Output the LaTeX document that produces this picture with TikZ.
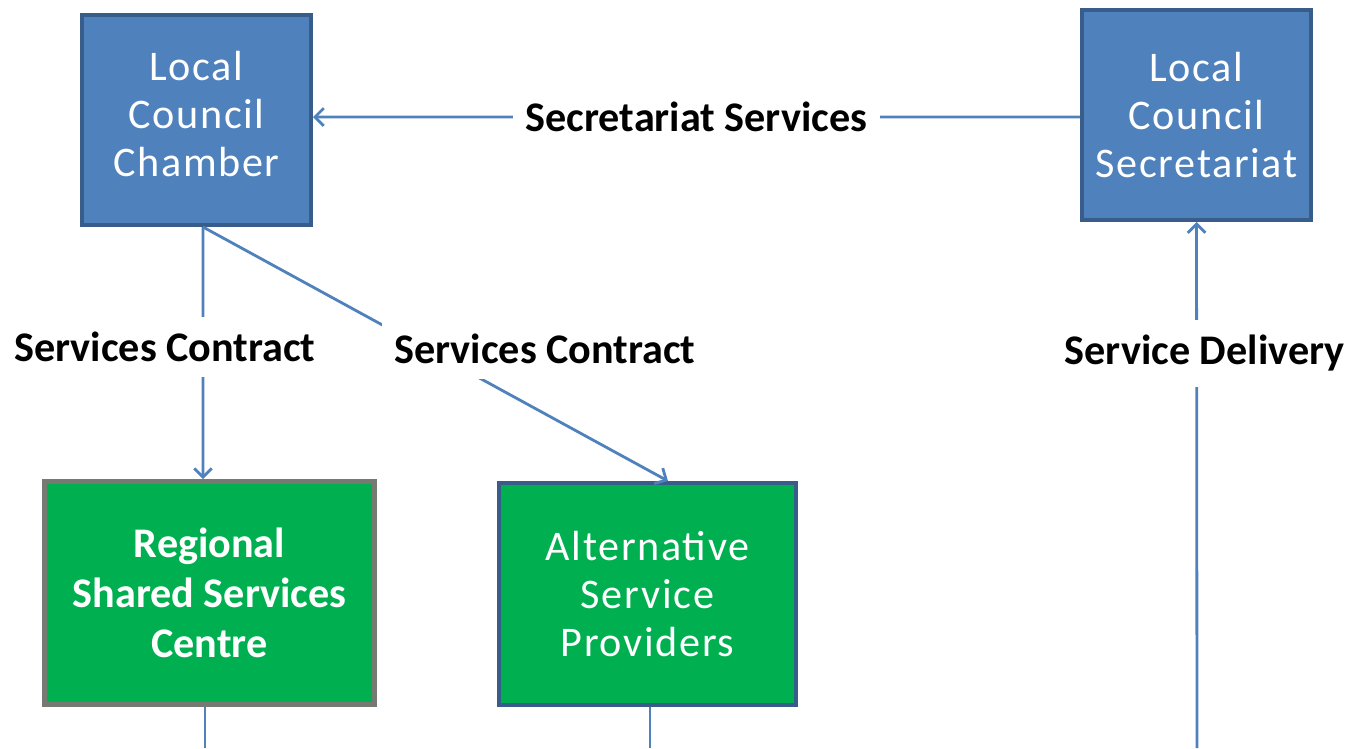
\documentclass[tikz,border=0pt]{standalone}
\usepackage{fontspec}
\setmainfont{Carlito}
\newfontfamily\boxfont[LetterSpace=4]{Carlito}
\usetikzlibrary{arrows.meta}
\definecolor{bluefill}{HTML}{4F81BD}
\definecolor{bluedark}{HTML}{385D8A}
\definecolor{greenfill}{HTML}{00B050}
\definecolor{greyedge}{HTML}{757B73}
\definecolor{linecol}{HTML}{4F81BD}

\begin{document}
\begin{tikzpicture}[x=0.02cm,y=-0.02cm,
    bluebox/.style={draw=bluedark,fill=bluefill,line width=2.3pt,text=white,align=center,
        font=\boxfont\fontsize{24}{27.5}\selectfont,minimum width=4.58cm,minimum height=4.2cm},
    greenbox/.style={fill=greenfill,line width=2.3pt,text=white,align=center,
        font=\boxfont\fontsize{24}{27.5}\selectfont,minimum width=5.94cm,minimum height=4.44cm},
    lbl/.style={fill=white,inner xsep=0.25cm,inner ysep=0.3cm,font=\bfseries\fontsize{24}{28}\selectfont},
    flow/.style={draw=linecol,line width=1.6pt,-{Straight Barb[length=5pt,width=10pt]}},
    link/.style={draw=linecol,line width=1.6pt}]
    \useasboundingbox (0,0) rectangle (1356,748);
    % boxes
    \node[bluebox,text depth=0.25cm] (chamber) at (196.5,120) {Local\\Council\\Chamber};
    \node[bluebox] (secretariat) at (1196.5,115) {Local\\Council\\Secretariat};
    \node[greenbox,draw=greyedge,line width=2.8pt,minimum width=6.6cm,minimum height=4.46cm,
        font=\bfseries\fontsize{24}{28.5}\selectfont] (regional) at (209.5,593) {Regional\\Shared Services\\Centre};
    \node[greenbox,draw=bluedark] (providers) at (647.5,594) {Alternative\\Service\\Providers};
    % free ends at the bottom
    \coordinate (regionalbot) at (205,748);
    \coordinate (providersbot) at (650,748);
    \coordinate (deliverybot) at (1197,748);
    % connectors
    \draw[flow] ([yshift=-0.04cm]secretariat.west) -- node[lbl]{Secretariat Services} ([yshift=0.06cm]chamber.east);
    \draw[flow] ([xshift=0.13cm]chamber.south) -- node[lbl,pos=0.476,xshift=-0.76cm]{Services Contract} ([xshift=-0.13cm]regional.north);
    \draw[flow] ([xshift=0.13cm]chamber.south) -- node[lbl,pos=0.5,xshift=2.19cm,yshift=0.1cm]{Services Contract} ([xshift=0.41cm]providers.north);
    \draw[flow] (deliverybot) -- node[lbl,pos=0.75,xshift=0.16cm]{Service Delivery} (secretariat.south);
    \draw[link] (regional.south -| regionalbot) -- (regionalbot);
    \draw[link] (providers.south -| providersbot) -- (providersbot);
\end{tikzpicture}
\end{document}
